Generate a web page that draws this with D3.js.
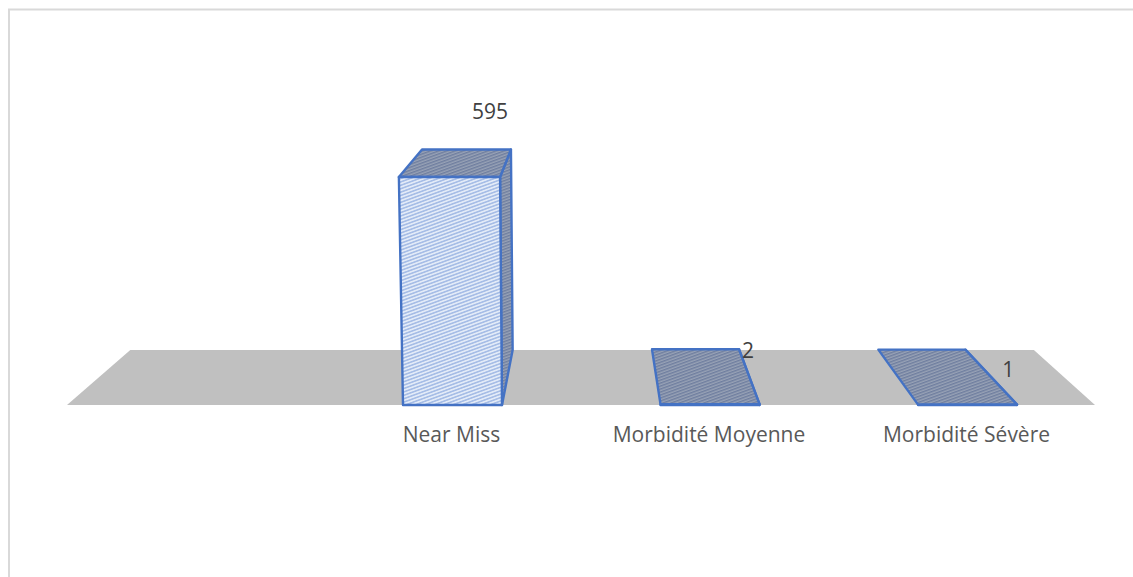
<!DOCTYPE html>
<html>
<head>
<meta charset="utf-8">
<script src="https://cdn.jsdelivr.net/npm/d3@7"></script>
<style>
html,body{margin:0;padding:0;background:#fff;overflow:hidden;}
svg{display:block;}
text{font-family:"Open Sans",sans-serif;}
</style>
</head>
<body>
<svg id="chart" width="1133" height="577"></svg>
<script>
// Severity counts shown as a 3D column chart
const categories = ["Near Miss", "Morbidité Moyenne", "Morbidité Sévère"];
const counts = [595, 2, 1];

const svg = d3.select("#chart");

const defs = svg.append("defs");
function hatch(id, bg, stroke, size, sw) {
  const p = defs.append("pattern").attr("id", id)
    .attr("patternUnits", "userSpaceOnUse")
    .attr("width", 12).attr("height", size)
    .attr("patternTransform", "rotate(-20)");
  p.append("rect").attr("width", 12).attr("height", size).attr("fill", bg);
  p.append("rect").attr("width", 12).attr("height", sw).attr("fill", stroke);
}
hatch("hatchFront", "#e3ebf8", "#a6bde6", 3.2, 1.6);
hatch("hatchDark", "#98a2b6", "#6f7e9f", 2.8, 1.4);

// Outer frame of the chart area, running past the right and bottom edges
svg.append("rect").attr("x", 9).attr("y", 9.5)
  .attr("width", 1200).attr("height", 700)
  .attr("fill", "#fff").attr("stroke", "#d9d9d9").attr("stroke-width", 2);

// Column positions along the front of the floor
const xPos = d3.scalePoint().domain(categories).range([452.5, 967.5]);
const barWidth = 99;
const baseY = 405;
const y = d3.scaleLinear().domain([0, 595]).range([baseY, 177]);

// Camera: columns widen slightly with height, depth recedes to a vanishing point
const vanish = {x: 590, y: -50};
const depthScale = 0.879;
const riseScale = 0.022 / 228;
function project(px, value, depth) {
  const py = y(value);
  const rise = 1 + (baseY - py) * riseScale;
  const fx = vanish.x + (px - vanish.x) * rise;
  const s = depth ? depthScale : 1;
  return [vanish.x + (fx - vanish.x) * s, vanish.y + (py - vanish.y) * s];
}
const poly = pts => "M" + pts.map(p => p.join(",")).join("L") + "Z";

// Floor
const floorLeft = 67, floorRight = 1095;
svg.append("path")
  .attr("d", poly([project(floorLeft, 0, 0), project(floorRight, 0, 0), project(floorRight, 0, 1), project(floorLeft, 0, 1)]))
  .attr("fill", "#c0c0c0");

// Columns
const bars = svg.append("g").selectAll("g")
  .data(categories.map((c, i) => ({c, v: counts[i]})))
  .join("g")
  .attr("stroke", "#4472c4").attr("stroke-width", 2.4).attr("stroke-linejoin", "round");

bars.each(function (d) {
  const g = d3.select(this);
  const l = xPos(d.c) - barWidth / 2, r = xPos(d.c) + barWidth / 2;
  // right side
  g.append("path").attr("fill", "url(#hatchDark)")
    .attr("d", poly([project(r, 0, 0), project(r, 0, 1), project(r, d.v, 1), project(r, d.v, 0)]));
  // top
  g.append("path").attr("fill", "url(#hatchDark)")
    .attr("d", poly([project(l, d.v, 0), project(r, d.v, 0), project(r, d.v, 1), project(l, d.v, 1)]));
  // front
  g.append("path").attr("fill", "url(#hatchFront)")
    .attr("d", poly([project(l, 0, 0), project(r, 0, 0), project(r, d.v, 0), project(l, d.v, 0)]));
});

// Category labels
svg.append("g").selectAll("text").data(categories).join("text")
  .attr("x", d => xPos(d) - 1)
  .attr("y", 442)
  .attr("text-anchor", "middle")
  .attr("font-size", 21)
  .attr("fill", "#595959")
  .text(d => d);

// Value labels, each placed beside its column's back edge
const labelOffset = [[-21, -31], [9, 9], [43, 27]];
svg.append("g").selectAll("text").data(categories).join("text")
  .attr("x", (d, i) => project(xPos(d) + barWidth / 2, counts[i], 1)[0] + labelOffset[i][0])
  .attr("y", (d, i) => project(xPos(d) + barWidth / 2, counts[i], 1)[1] + labelOffset[i][1])
  .attr("text-anchor", "middle")
  .attr("font-size", 21)
  .attr("fill", "#404040")
  .text((d, i) => counts[i]);
</script>
</body>
</html>
